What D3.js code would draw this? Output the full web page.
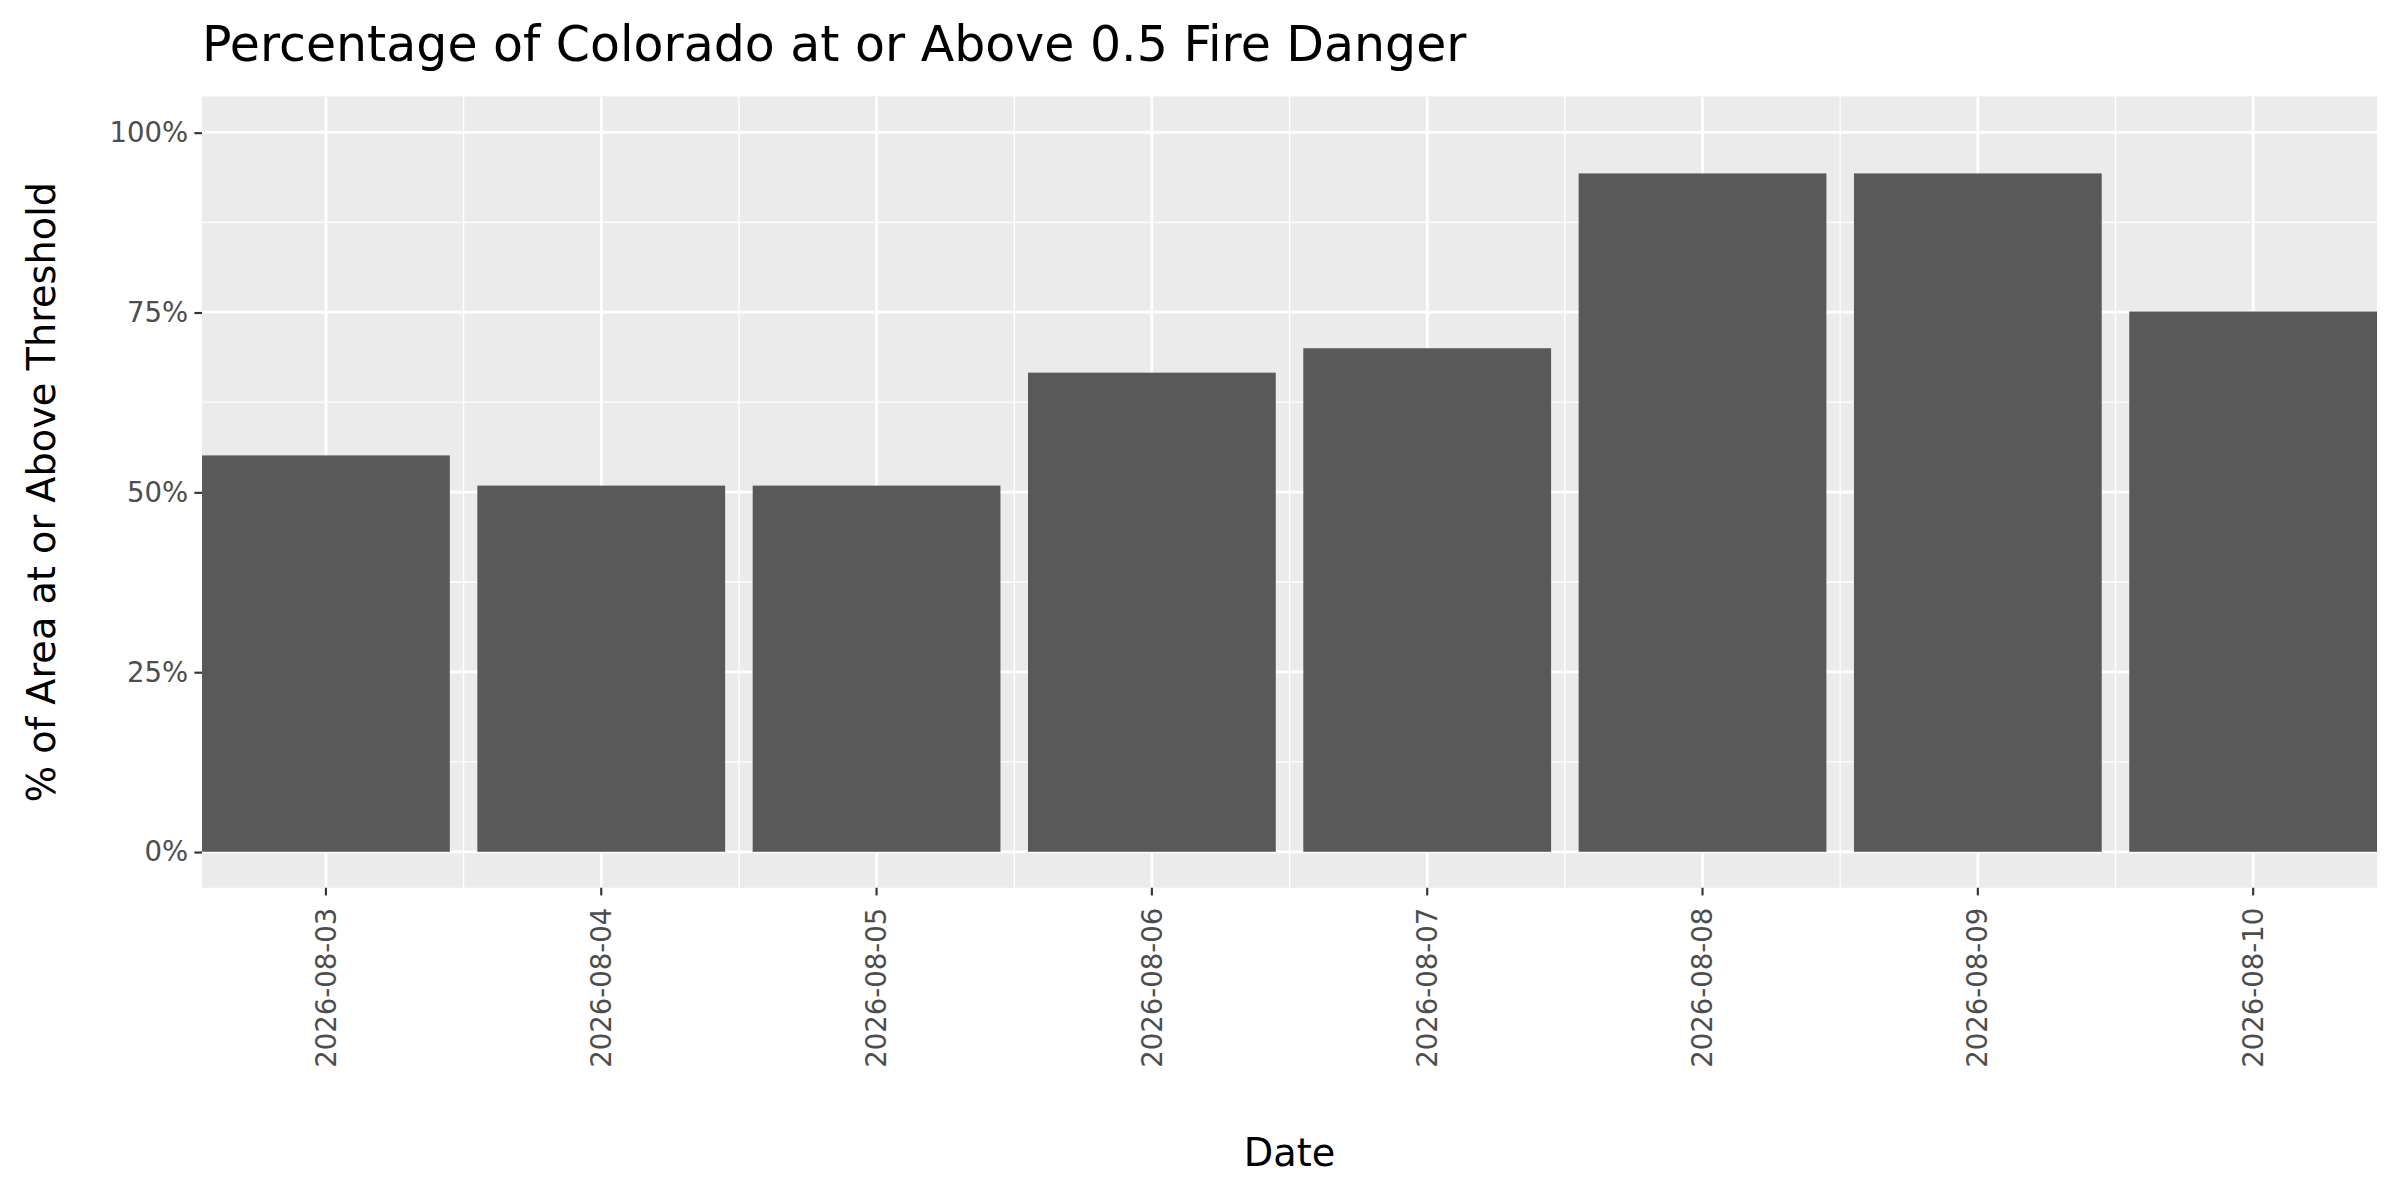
<!DOCTYPE html>
<html><head><meta charset="utf-8">
<script src="https://cdn.jsdelivr.net/npm/d3@7"></script>
<style>body{margin:0;background:#fff}</style>
</head><body>
<script>
const categories = ["2026-08-03","2026-08-04","2026-08-05","2026-08-06","2026-08-07","2026-08-08","2026-08-09","2026-08-10"];
const values = [0.551, 0.509, 0.509, 0.666, 0.700, 0.943, 0.943, 0.751];
const yTicks = [0, 0.25, 0.5, 0.75, 1];
const yMinor = [0.125, 0.375, 0.625, 0.875];

const svg = d3.select("body").append("svg")
  .attr("width", 2400).attr("height", 1200)
  .attr("viewBox", "0 0 1568 784")
  .style("font-family", "DejaVu Sans");

const L = 132, R = 1553, T = 63, B = 580;
const x = d3.scaleBand().domain(categories).range([L, R]).paddingInner(0.1).paddingOuter(0);
const y = d3.scaleLinear().domain([-0.05, 1.05]).range([B, T]);

svg.append("rect").attr("x", L).attr("y", T).attr("width", R - L).attr("height", B - T).attr("fill", "#EBEBEB");

// minor grids
svg.selectAll(".ym").data(yMinor).enter().append("line")
  .attr("x1", L).attr("x2", R).attr("y1", d => y(d)).attr("y2", d => y(d))
  .attr("stroke", "#fff").attr("stroke-width", 0.9);
svg.selectAll(".xm").data(categories.slice(1)).enter().append("line")
  .attr("x1", d => x(d) - x.step() * 0.05).attr("x2", d => x(d) - x.step() * 0.05)
  .attr("y1", T).attr("y2", B).attr("stroke", "#fff").attr("stroke-width", 0.9);
// major grids
svg.selectAll(".yg").data(yTicks).enter().append("line")
  .attr("x1", L).attr("x2", R).attr("y1", d => y(d)).attr("y2", d => y(d))
  .attr("stroke", "#fff").attr("stroke-width", 1.8);
svg.selectAll(".xg").data(categories).enter().append("line")
  .attr("x1", d => x(d) + x.bandwidth() / 2).attr("x2", d => x(d) + x.bandwidth() / 2)
  .attr("y1", T).attr("y2", B).attr("stroke", "#fff").attr("stroke-width", 1.8);

// bars
svg.selectAll(".bar").data(categories).enter().append("rect")
  .attr("x", d => x(d)).attr("width", x.bandwidth())
  .attr("y", (d, i) => y(values[i])).attr("height", (d, i) => y(0) - y(values[i]))
  .attr("fill", "#595959");

// axes
const yAxis = svg.append("g").attr("transform", `translate(${L},0)`)
  .call(d3.axisLeft(y).tickValues(yTicks).tickFormat(d3.format(".0%")).tickSize(5).tickPadding(4));
const xAxis = svg.append("g").attr("transform", `translate(0,${B})`)
  .call(d3.axisBottom(x).tickSize(5).tickPadding(4));
[yAxis, xAxis].forEach(g => {
  g.select(".domain").remove();
  g.selectAll("line").attr("stroke", "#333").attr("stroke-width", 1.4);
  g.selectAll("text").attr("fill", "#4D4D4D").style("font-size", "18px").style("font-family", "DejaVu Sans");
});
xAxis.selectAll("text").attr("transform", "rotate(-90)").attr("text-anchor", "end")
  .attr("x", -13).attr("y", 0).attr("dy", "0.35em");

svg.append("text").attr("x", L).attr("y", 40).text("Percentage of Colorado at or Above 0.5 Fire Danger")
  .style("font-size", "32px").attr("fill", "#000");
svg.append("text").attr("x", (L + R) / 2).attr("y", 762).attr("text-anchor", "middle")
  .text("Date").style("font-size", "25px").attr("fill", "#000");
svg.append("text").attr("transform", `translate(36,${(T + B) / 2}) rotate(-90)`).attr("text-anchor", "middle")
  .text("% of Area at or Above Threshold").style("font-size", "25px").attr("fill", "#000");
</script>
</body></html>
